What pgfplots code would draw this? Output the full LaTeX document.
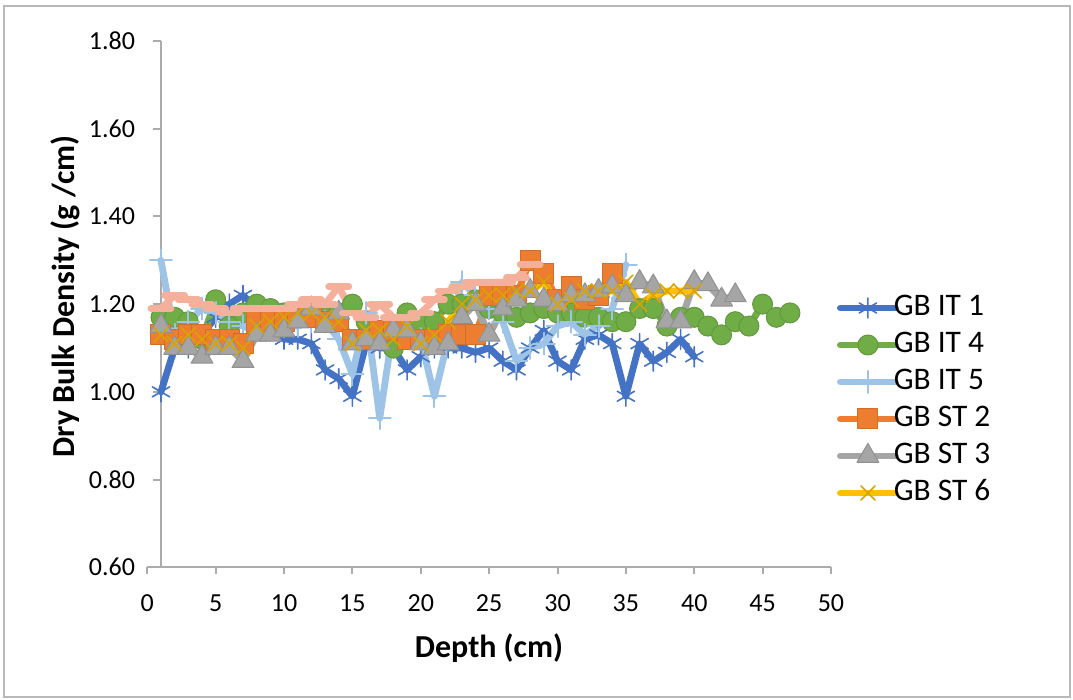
\documentclass[border=0pt]{standalone}
\usepackage{fontspec}
\setmainfont{Carlito}
\usepackage{pgfplots}
\pgfplotsset{compat=1.18}
\definecolor{cIT1}{HTML}{4472C4}
\definecolor{cIT4}{HTML}{70AD47}
\definecolor{cIT5}{HTML}{9DC3E6}
\definecolor{cST2}{HTML}{ED7D31}
\definecolor{cST3}{HTML}{A5A5A5}
\definecolor{cST6}{HTML}{FFC000}
\definecolor{cSal}{HTML}{F4B09A}
\definecolor{axgray}{HTML}{ABABAB}
\definecolor{framegray}{HTML}{B8B8B8}
\begin{document}
\begin{tikzpicture}
\path[use as bounding box] (-73.65pt,-66.35pt) rectangle (462.85pt,283.65pt);
\draw[framegray, line width=0.8pt] (-71.65pt,-64.85pt) rectangle (461.35pt,280.65pt);
\begin{axis}[
  at={(0pt,0pt)}, anchor=south west,
  scale only axis, width=341.85pt, height=263.15pt,
  xmin=0, xmax=50, ymin=0.6, ymax=1.8,
  clip=false,
  axis line style={draw=none},
  tick style={draw=none},
  xtick={0,5,10,15,20,25,30,35,40,45,50},
  ytick={0.6,0.8,1.0,1.2,1.4,1.6,1.8},
  /pgf/number format/assume math mode=true,
  y tick label style={/pgf/number format/fixed, /pgf/number format/fixed zerofill, /pgf/number format/precision=2},
  tick label style={font=\fontsize{13}{15}\selectfont, inner sep=0pt, outer sep=0pt},
  xticklabel style={anchor=base, yshift=-22.2pt},
  yticklabel style={anchor=east, xshift=-6.15pt},
  xlabel={Depth (cm)}, ylabel={Dry Bulk Density (g /cm)},
  label style={font=\fontsize{16}{19}\selectfont\bfseries},
  xlabel style={at={(axis description cs:0.4998,-0.1533)}, anchor=center},
  ylabel style={at={(axis description cs:-0.1204,0.5145)}, anchor=center},
  legend style={at={(1.0088,0.5193)}, anchor=north west, draw=none, fill=none,
    inner sep=0pt, outer sep=0pt, font=\fontsize{15.7}{18}\selectfont,
    row sep=4.5pt, column sep=-2.5pt,
    nodes={inner sep=0pt, text height=11pt, text depth=3pt}},
  legend cell align=left,
  legend image code/.code={\draw[mark repeat=2,mark phase=2] plot coordinates {(0pt,0pt) (13.75pt,0pt) (27.5pt,0pt)};},
  every axis plot/.append style={line width=3.4pt, line join=round, line cap=round},
]
\draw[axgray, line width=1pt] (axis cs:1,0.6) -- (axis cs:1,1.8);
\draw[axgray, line width=1pt] (axis cs:0,0.6) -- (axis cs:50,0.6);
\pgfplotsinvokeforeach{0.8,1.0,1.2,1.4,1.6,1.8}{\draw[axgray, line width=1pt] (axis cs:1,#1) -- ++(-4pt,0pt);}
\pgfplotsinvokeforeach{0,5,10,15,20,25,30,35,40,45,50}{\draw[axgray, line width=1pt] (axis cs:#1,0.6) -- ++(0pt,-3.6pt);}

\addplot[cIT1, mark=asterisk, mark size=5pt, mark options={line width=0.8pt, solid}] coordinates {
(1,1.00) (2,1.10) (3,1.10) (4,1.13) (5,1.17) (6,1.20) (7,1.22) (8,1.19) (9,1.15) (10,1.12)
(11,1.12) (12,1.11) (13,1.05) (14,1.03) (15,0.99) (16,1.11) (17,1.10) (18,1.10) (19,1.05) (20,1.08)
(21,1.10) (22,1.10) (23,1.10) (24,1.09) (25,1.10) (26,1.07) (27,1.05) (28,1.10) (29,1.14) (30,1.07)
(31,1.05) (32,1.12) (33,1.13) (34,1.11) (35,0.99) (36,1.11) (37,1.07) (38,1.09) (39,1.12) (40,1.08)
};
\addlegendentry{GB IT 1}

\addplot[cIT4, mark=*, mark size=5pt, mark options={fill=cIT4, draw=cIT4!88!black, line width=0.5pt, solid}] coordinates {
(1,1.17) (2,1.17) (3,1.16) (4,1.12) (5,1.21) (6,1.15) (7,1.18) (8,1.20) (9,1.19) (10,1.18)
(11,1.18) (12,1.19) (13,1.18) (14,1.18) (15,1.20) (16,1.16) (17,1.13) (18,1.10) (19,1.18) (20,1.16)
(21,1.16) (22,1.20) (23,1.20) (24,1.21) (25,1.19) (26,1.18) (27,1.17) (28,1.18) (29,1.19) (30,1.18)
(31,1.18) (32,1.17) (33,1.17) (34,1.16) (35,1.16) (36,1.19) (37,1.19) (38,1.15) (39,1.17) (40,1.17)
(41,1.15) (42,1.13) (43,1.16) (44,1.15) (45,1.20) (46,1.17) (47,1.18)
};
\addlegendentry{GB IT 4}

\addplot[cIT5, mark=+, mark size=5.5pt, mark options={line width=1pt, solid}] coordinates {
(1,1.30) (2,1.13) (3,1.16) (4,1.19) (5,1.18) (6,1.16) (7,1.15) (8,1.14) (9,1.14) (10,1.15)
(11,1.15) (12,1.16) (13,1.16) (14,1.12) (15,1.04) (16,1.18) (17,0.94) (18,1.15) (19,1.13) (20,1.12)
(21,0.99) (22,1.12) (23,1.25) (24,1.22) (25,1.19) (26,1.16) (27,1.07) (28,1.10) (29,1.11) (30,1.15)
(31,1.16) (32,1.13) (33,1.15) (34,1.19) (35,1.29)
};
\addlegendentry{GB IT 5}

\addplot[cST2, mark=square*, mark size=5pt, mark options={fill=cST2, draw=cST2!88!black, line width=0.5pt, solid}] coordinates {
(1,1.13) (2,1.12) (3,1.13) (4,1.13) (5,1.12) (6,1.12) (7,1.11) (8,1.16) (9,1.16) (10,1.16)
(11,1.17) (12,1.17) (13,1.16) (14,1.16) (15,1.12) (16,1.12) (17,1.14) (18,1.14) (19,1.12) (20,1.12)
(21,1.12) (22,1.13) (23,1.13) (24,1.13) (25,1.22) (26,1.22) (27,1.22) (28,1.30) (29,1.27) (30,1.21)
(31,1.24) (32,1.21) (33,1.22) (34,1.27)
};
\addlegendentry{GB ST 2}

\addplot[cST3, mark=triangle*, mark size=6.3pt, mark options={fill=cST3, draw=cST3!88!black, line width=0.5pt, solid}] coordinates {
(1,1.15) (2,1.10) (3,1.10) (4,1.08) (5,1.10) (6,1.10) (7,1.07) (8,1.13) (9,1.13) (10,1.14)
(11,1.16) (12,1.19) (13,1.15) (14,1.18) (15,1.11) (16,1.12) (17,1.11) (18,1.14) (19,1.14) (20,1.11)
(21,1.10) (22,1.11) (23,1.17) (24,1.20) (25,1.13) (26,1.19) (27,1.21) (28,1.23) (29,1.21) (30,1.20)
(31,1.22) (32,1.22) (33,1.23) (34,1.24) (35,1.22) (36,1.25) (37,1.24) (38,1.16) (39,1.16) (40,1.25)
(41,1.245) (42,1.21) (43,1.22)
};
\addlegendentry{GB ST 3}

\addplot[cST6, mark=x, mark size=5pt, mark options={line width=0.8pt, draw=cST6!85!black, solid}] coordinates {
(1,1.13) (2,1.11) (3,1.13) (4,1.12) (5,1.11) (6,1.11) (7,1.10) (8,1.15) (9,1.16) (10,1.17)
(11,1.18) (12,1.18) (13,1.17) (14,1.16) (15,1.11) (16,1.14) (17,1.14) (18,1.12) (19,1.15) (20,1.11)
(21,1.13) (22,1.16) (23,1.20) (24,1.21) (25,1.22) (26,1.22) (27,1.23) (28,1.23) (29,1.25) (30,1.20)
(31,1.21) (32,1.23) (33,1.23) (34,1.23) (35,1.25) (36,1.20) (37,1.22) (38,1.23) (39,1.23) (40,1.23)
};
\addlegendentry{GB ST 6}

\addplot[cSal, forget plot, mark=-, mark size=5pt, mark options={line width=3.4pt, solid}] coordinates {
(1,1.19) (2,1.22) (3,1.21) (4,1.20) (5,1.19) (6,1.18) (7,1.19) (8,1.19) (9,1.19) (10,1.19)
(11,1.20) (12,1.21) (13,1.20) (14,1.24) (15,1.18) (16,1.17) (17,1.20) (18,1.17) (19,1.17) (20,1.18)
(21,1.21) (22,1.23) (23,1.24) (24,1.25) (25,1.25) (26,1.25) (27,1.26) (28,1.29)
};
\end{axis}
\end{tikzpicture}
\end{document}
